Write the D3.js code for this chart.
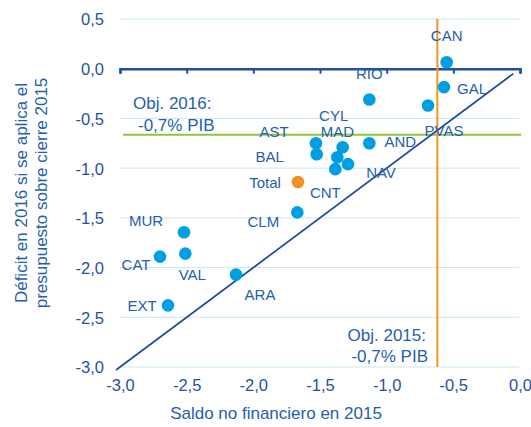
<!DOCTYPE html>
<html>
<head>
<meta charset="utf-8">
<script src="https://cdn.jsdelivr.net/npm/d3@7"></script>
<style>
  body { margin: 0; background: #fff; }
  text { font-family: "Liberation Sans", Arial, sans-serif; }
</style>
</head>
<body>
<svg id="chart"></svg>
<script>
// data
const regions = ['CAN', 'GAL', 'PVAS', 'RIO', 'AND', 'AST', 'BAL', 'CYL', 'MAD', 'NAV', 'CNT', 'Total', 'CLM', 'MUR', 'CAT', 'VAL', 'ARA', 'EXT']
const saldo2015 = [-0.55, -0.57, -0.69, -1.13, -1.13, -1.53, -1.525, -1.33, -1.37, -1.29, -1.385, -1.665, -1.67, -2.52, -2.70, -2.51, -2.13, -2.64]
const deficit2016 = [0.065, -0.185, -0.37, -0.31, -0.75, -0.75, -0.86, -0.79, -0.89, -0.96, -1.01, -1.14, -1.445, -1.645, -1.89, -1.86, -2.07, -2.38]
const xTicks = [-3, -2.5, -2, -1.5, -1, -0.5, 0]
const yTicks = [0.5, 0, -0.5, -1, -1.5, -2, -2.5, -3]
const objetivo2015 = -0.62
const objetivo2016 = -0.665
const diagonal = [-3.03, -0.05]

// where each label sits relative to its dot (px)
const labelOffset = {
  CAN: [0, -27], GAL: [28, 1], PVAS: [16, 25], RIO: [0, -26], AND: [31, -2],
  AST: [-42, -12], BAL: [-47, 2], CYL: [-9, -32], MAD: [0, -26], NAV: [33, 8],
  CNT: [-10, 23], Total: [-33, 1], CLM: [-34, 9], MUR: [-38, -12], CAT: [-24, 8],
  VAL: [7, 21], ARA: [24, 20], EXT: [-26, 0]
}

const width = 531
const height = 427
const svg = d3.select('#chart').attr('width', width).attr('height', height)

const x = d3.scaleLinear().domain([-3, 0]).range([120, 520])
const y = d3.scaleLinear().domain([0.5, -3]).range([19, 367])

const es = d3.formatLocale({ decimal: ',', thousands: '.', grouping: [3], currency: ['', '€'], minus: '-' })
const fmt = es.format('.1f')

const textBlue = '#2560ad'
const tickBlue = '#1f529f'

// gridlines
svg.append('g')
  .selectAll('line')
  .data(yTicks.filter(d => d !== 0))
  .join('line')
  .attr('x1', x(-3))
  .attr('x2', x(0) - 1)
  .attr('y1', d => y(d))
  .attr('y2', d => y(d))
  .attr('stroke', '#c8e8f7')
  .attr('stroke-width', 1)

// y tick labels
const yAxis = svg.append('g')
  .attr('transform', `translate(${x(-3)},0)`)
  .call(d3.axisLeft(y).tickValues(yTicks).tickFormat(fmt).tickSize(0).tickPadding(16))
yAxis.select('.domain').remove()
yAxis.selectAll('text')
  .attr('fill', tickBlue)
  .style('font-size', '16.5px')
  .attr('dy', '0.36em')

// x tick labels at bottom
const xAxis = svg.append('g')
  .attr('transform', `translate(0,${y(-3)})`)
  .call(d3.axisBottom(x).tickValues(xTicks).tickFormat(fmt).tickSize(0).tickPadding(12))
xAxis.select('.domain').remove()
xAxis.selectAll('text')
  .attr('fill', tickBlue)
  .style('font-size', '16.5px')

// zero axis line with ticks
const zeroAxis = svg.append('g')
  .attr('transform', `translate(0,${y(0)})`)
  .call(d3.axisBottom(x).tickValues(xTicks).tickFormat('').tickSize(5).tickSizeOuter(5))
zeroAxis.select('.domain').attr('stroke', '#1f4f9e').attr('stroke-width', 2.5).attr('fill', 'none')
zeroAxis.selectAll('.tick line').attr('stroke', '#1f4f9e').attr('stroke-width', 2)

// objective lines
svg.append('line')
  .attr('x1', x(-3) + 3)
  .attr('x2', x(0) + 1)
  .attr('y1', y(objetivo2016))
  .attr('y2', y(objetivo2016))
  .attr('stroke', '#8cc63e')
  .attr('stroke-width', 2)

svg.append('line')
  .attr('x1', x(objetivo2015))
  .attr('x2', x(objetivo2015))
  .attr('y1', y(0.5))
  .attr('y2', y(-3))
  .attr('stroke', '#f7941d')
  .attr('stroke-width', 2)

// 45 degree line
svg.append('line')
  .attr('x1', x(diagonal[0]))
  .attr('y1', y(diagonal[0]))
  .attr('x2', x(diagonal[1]))
  .attr('y2', y(diagonal[1]))
  .attr('stroke', '#1d4d99')
  .attr('stroke-width', 1.7)

// points
const points = regions.map((r, i) => ({ name: r, sx: saldo2015[i], dy: deficit2016[i] }))

svg.append('g')
  .selectAll('circle')
  .data(points)
  .join('circle')
  .attr('cx', d => x(d.sx))
  .attr('cy', d => y(d.dy))
  .attr('r', 6.3)
  .attr('fill', d => d.name === 'Total' ? '#f39022' : '#009fe3')

svg.append('g')
  .selectAll('text')
  .data(points)
  .join('text')
  .attr('x', d => x(d.sx) + labelOffset[d.name][0])
  .attr('y', d => y(d.dy) + labelOffset[d.name][1])
  .attr('text-anchor', 'middle')
  .attr('dy', '0.36em')
  .attr('fill', textBlue)
  .style('font-size', '15px')
  .text(d => d.name)

// annotations
const note = svg.append('g').attr('fill', textBlue).style('font-size', '17px')
note.append('text').attr('x', 133).attr('y', 109).text('Obj. 2016:')
note.append('text').attr('x', 138).attr('y', 130.5).text('-0,7% PIB')
note.append('text').attr('x', 426).attr('y', 341).attr('text-anchor', 'end').text('Obj. 2015:')
note.append('text').attr('x', 428).attr('y', 361.5).attr('text-anchor', 'end').text('-0,7% PIB')

// axis titles
svg.append('text')
  .attr('x', 276)
  .attr('y', 419)
  .attr('text-anchor', 'middle')
  .attr('fill', textBlue)
  .style('font-size', '17px')
  .text('Saldo no financiero en 2015')

const yTitle = svg.append('text')
  .attr('transform', 'translate(0,193) rotate(-90)')
  .attr('text-anchor', 'middle')
  .attr('fill', textBlue)
  .style('font-size', '17px')
yTitle.append('tspan').attr('x', 0).attr('y', 27).text('Déficit en 2016 si se aplica el')
yTitle.append('tspan').attr('x', 0).attr('y', 47).text('presupuesto sobre cierre 2015')
</script>
</body>
</html>
